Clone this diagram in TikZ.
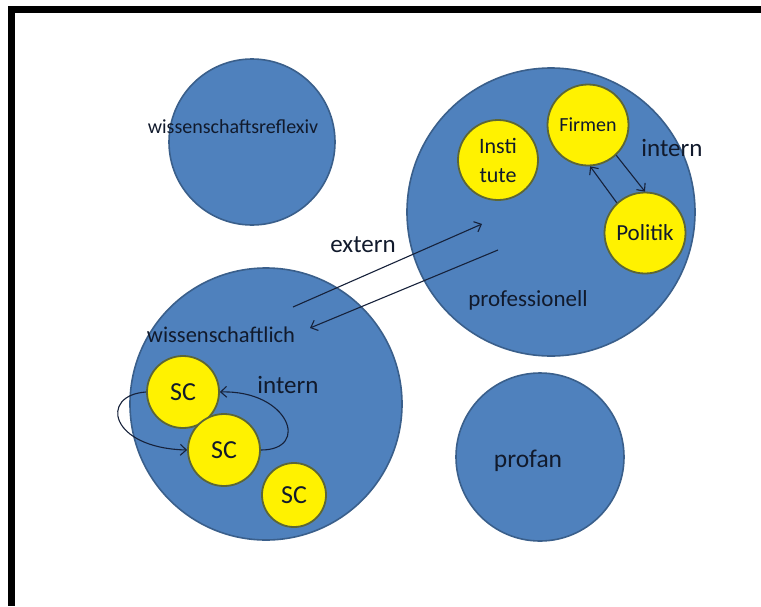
\documentclass[tikz,border=0pt]{standalone}
\usepackage{fontspec}
\setmainfont{Carlito}
\usetikzlibrary{arrows.meta}
\definecolor{fieldblue}{HTML}{4F81BD}
\definecolor{fieldline}{HTML}{3A5F8B}
\definecolor{groupline}{HTML}{5C6636}
\definecolor{labeltext}{HTML}{111A2C}
\definecolor{arrowline}{HTML}{16213A}
\tikzset{
  field/.style={circle, draw=fieldline, line width=1.6pt, fill=fieldblue, inner sep=0pt},
  group/.style={circle, draw=groupline, line width=1.8pt, fill=yellow, inner sep=0pt, align=center, text=labeltext},
  fieldlabel/.style={text=labeltext, inner sep=0pt},
  link/.style={draw=arrowline, line width=1.1pt, -{Straight Barb[length=6pt,width=11pt]}}
}
\begin{document}
\begin{tikzpicture}[x=1pt,y=-1pt]
\useasboundingbox (0,0) rectangle (761,606);
% frame
\fill[black] (8,6) rectangle (761,13);
\fill[black] (8,6) rectangle (15,606);
% fields
\node[field, minimum size=166pt] (reflexiv) at (252,142) {};
\node[field, minimum size=288pt] (prof) at (551,212) {};
\node[field, minimum size=272pt] (wiss) at (266,404) {};
\node[field, minimum size=168pt] (profan) at (540,457) {};
\node[fieldlabel, font=\fontsize{20}{24}\selectfont] (reflexivlabel) at (233,127) {wissenschaftsreflexiv};
\node[fieldlabel, font=\fontsize{22.5}{27}\selectfont] (wisslabel) at (221,335) {wissenschaftlich};
\node[fieldlabel, font=\fontsize{23}{27}\selectfont] (proflabel) at (528,300) {professionell};
\node[fieldlabel, font=\fontsize{25.5}{30}\selectfont] (profanlabel) at (528,461) {profan};
% groups inside professionell
\node[group, minimum size=81pt, font=\fontsize{20}{24}\selectfont] (firmen) at (588,125) {Firmen};
\node[group, minimum size=80pt, font=\fontsize{22}{29}\selectfont] (inst) at (498,160) {Insti\\tute};
\node[group, minimum size=81pt, font=\fontsize{23}{27}\selectfont] (politik) at (645,233) {Politik};
\node[fieldlabel, font=\fontsize{25}{30}\selectfont] (internprof) at (672,148) {intern};
\draw[link] (firmen.-47) -- (politik.90);
\draw[link] (politik.133) -- (firmen.-87);
% groups inside wissenschaftlich
\node[group, minimum size=72pt, font=\fontsize{26}{30}\selectfont] (sca) at (183,392) {SC};
\node[group, minimum size=72pt, font=\fontsize{26}{30}\selectfont] (scb) at (224,450) {SC};
\node[group, minimum size=64pt, font=\fontsize{26}{30}\selectfont] (scc) at (294,495) {SC};
\node[fieldlabel, font=\fontsize{25}{30}\selectfont] (internwiss) at (288,385) {intern};
\draw[link] (sca.west) .. controls +(-47,3) and +(-78,-2) .. (scb.west);
\draw[link] (scb.east) .. controls +(50,0) and +(69,-2) .. (sca.east);
% extern
\coordinate (wissout) at (293,307);
\coordinate (profin) at (482,224);
\coordinate (profout) at (498,250);
\coordinate (wissin) at (310,328);
\node[fieldlabel, font=\fontsize{25}{30}\selectfont] (externlabel) at (363,245) {extern};
\draw[link] (wissout) -- (profin);
\draw[link] (profout) -- (wissin);
\end{tikzpicture}
\end{document}
